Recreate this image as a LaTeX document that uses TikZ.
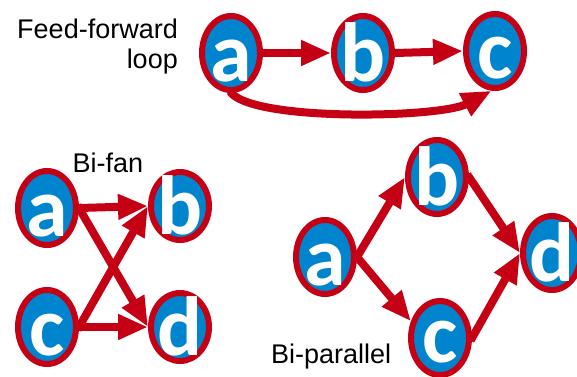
\documentclass[tikz,border=0pt]{standalone}
\usepackage{fontspec}
\setmainfont{Liberation Sans}
\newfontfamily\letfont{Carlito}
\usetikzlibrary{shapes.geometric,arrows.meta}
\definecolor{nodeblue}{RGB}{0,132,206}
\definecolor{edgered}{RGB}{198,0,20}
\newcommand\vlet[2][28pt]{\makebox[0pt]{\raisebox{-#1}[0pt][0pt]{#2}}}
\tikzset{
  vert/.style={ellipse, draw=edgered, fill=nodeblue, line width=6pt,
    minimum width=58pt, minimum height=74pt, inner sep=0pt,
    text=white, font=\letfont\bfseries\fontsize{84}{84}\selectfont},
  vshort/.style={vert, minimum height=68pt},
  arr/.style={draw=edgered, line width=8pt, shorten <=-3pt,
    -{Triangle[length=30pt,width=24pt]}},
  lab/.style={inner sep=0pt, font=\fontsize{27}{31}\selectfont, text=black}
}
\begin{document}
\begin{tikzpicture}[x=1pt,y=-1pt]
\useasboundingbox (0,0) rectangle (577,376);
% Feed-forward loop
\node[lab, anchor=base east] (t1) at (178,38) {Feed-forward};
\node[lab, anchor=base east] (t2) at (178,68) {loop};
\node[vert] (fa) at (231,53) {\vlet{a}};
\node[vert] (fb) at (363,53) {\vlet{b}};
\node[vert] (fc) at (495,51) {\vlet[27pt]{c}};
\draw[arr] (fa.east) -- (fb.west);
\draw[arr] (fb.east) -- (fc.west);
\draw[arr, shorten <=-2pt] (fa.south) .. controls (250,122) and (440,118) .. (fc.-95);
% Bi-fan
\node[lab, anchor=base] (t3) at (108,172) {Bi-fan};
\node[vert] (ba) at (47,208) {\vlet{a}};
\node[vshort] (bb) at (180,206) {\vlet{b}};
\node[vert] (bc) at (47,327) {\vlet{c}};
\node[vshort] (bd) at (180,327) {\vlet{d}};
\draw[arr] (ba.east) -- (bb.west);
\draw[arr] (bc.east) -- (bd.west);
\draw[arr] (ba.east) -- (bd.west);
\draw[arr] (bc.east) -- (bb.west);
% Bi-parallel
\node[lab, anchor=base west] (t4) at (271,363) {Bi-parallel};
\node[vert] (pa) at (325,257) {\vlet{a}};
\node[vert] (pb) at (437,177) {\vlet{b}};
\node[vert] (pc) at (440,338) {\vlet[24pt]{c}};
\node[vert] (pd) at (552,253) {\vlet{d}};
\draw[arr] (pa.east) -- (pb.west);
\draw[arr] (pa.east) -- (pc.150);
\draw[arr] (pb.east) -- (pd.west);
\draw[arr] (pc.east) -- (pd.west);
\end{tikzpicture}
\end{document}
